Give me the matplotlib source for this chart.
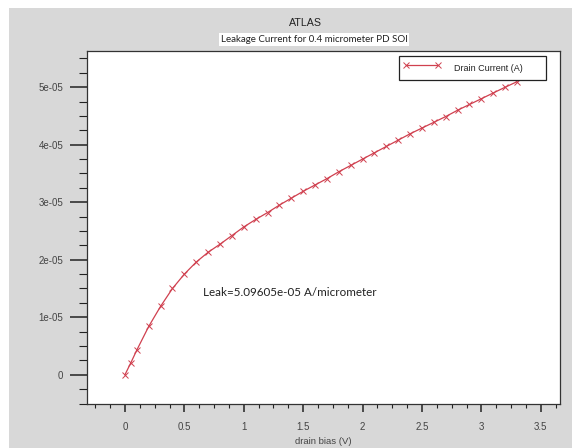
import matplotlib
matplotlib.use("Agg")
import matplotlib.pyplot as plt
from matplotlib.patches import Rectangle
from matplotlib.ticker import MultipleLocator

# drain bias sweep (V) and drain current (A)
drain_bias = [0.0, 0.05, 0.1, 0.2, 0.3, 0.4, 0.5, 0.6, 0.7, 0.8, 0.9, 1.0,
              1.1, 1.2, 1.3, 1.4, 1.5, 1.6, 1.7, 1.8, 1.9, 2.0, 2.1, 2.2,
              2.3, 2.4, 2.5, 2.6, 2.7, 2.8, 2.9, 3.0, 3.1, 3.2, 3.3]
drain_current = [0.0, 0.21e-5, 0.43e-5, 0.84e-5, 1.19e-5, 1.50e-5, 1.75e-5,
                 1.96e-5, 2.13e-5, 2.27e-5, 2.42e-5, 2.57e-5, 2.70e-5,
                 2.82e-5, 2.95e-5, 3.07e-5, 3.19e-5, 3.30e-5, 3.41e-5,
                 3.53e-5, 3.64e-5, 3.75e-5, 3.86e-5, 3.97e-5, 4.08e-5,
                 4.19e-5, 4.29e-5, 4.39e-5, 4.49e-5, 4.60e-5, 4.70e-5,
                 4.80e-5, 4.90e-5, 5.00e-5, 5.09605e-5]
x_ticks = [0, 0.5, 1, 1.5, 2, 2.5, 3, 3.5]
x_tick_labels = ["0", "0.5", "1", "1.5", "2", "2.5", "3", "3.5"]
y_ticks = [0, 1e-5, 2e-5, 3e-5, 4e-5, 5e-5]
y_tick_labels = ["0", "1e-05", "2e-05", "3e-05", "4e-05", "5e-05"]
leak = drain_current[-1]

W, H = 572, 448
plt.rcParams["font.family"] = ["Liberation Sans", "DejaVu Sans"]
fig = plt.figure(figsize=(W / 100, H / 100), dpi=100)
fig.patch.set_facecolor("white")
fig.add_artist(Rectangle((9 / W, 0), 1 - 9 / W, 1 - 8 / H, transform=fig.transFigure,
                         facecolor="#d8d8d8", edgecolor="none", zorder=-5))

left, right, top, bottom = 86.7, 560, 51, 403.5
ax = fig.add_axes([left / W, 1 - bottom / H, (right - left) / W, (bottom - top) / H])
ax.set_facecolor("white")

red = "#d0404f"
ax.plot(drain_bias, drain_current, color=red, lw=0.9, marker="x", ms=5, mew=0.7,
        label="Drain Current (A)")

ax.set_xlim(-0.322, 3.662)
ax.set_ylim(-0.5e-5, 5.63e-5)
ax.set_xticks(x_ticks)
ax.set_xticklabels(x_tick_labels)
ax.set_yticks(y_ticks)
ax.set_yticklabels(y_tick_labels)
ax.xaxis.set_minor_locator(MultipleLocator(0.125))
ax.yaxis.set_minor_locator(MultipleLocator(0.25e-5))

# tick sizes in points (px * 0.72 at 100 dpi)
ax.tick_params(axis="x", which="major", length=6, width=1.1, pad=7,
               labelsize=7, colors="#222222", labelcolor="#444444")
ax.tick_params(axis="x", which="minor", length=3, width=0.8, colors="#222222")
ax.tick_params(axis="y", which="major", length=12, width=1.1, pad=5,
               labelsize=7, colors="#222222", labelcolor="#444444")
ax.tick_params(axis="y", which="minor", length=6, width=0.8, colors="#222222")
for s in ax.spines.values():
    s.set_color("#333333")
    s.set_linewidth(0.9)

ax.set_xlabel("drain bias (V)", fontsize=6.8, color="#444444", labelpad=4)

ax.text(0.654, 1.43e-5, f"Leak={leak:.5e} A/micrometer", family=["Lato", "DejaVu Sans"],
        fontsize=8.4, color="#222222", ha="left", va="center")

leg = ax.legend(loc="upper left", bbox_to_anchor=(0.660, 0.911, 0.310, 0.076),
                mode="expand", borderaxespad=0, fancybox=False, framealpha=1,
                edgecolor="#222222", fontsize=6.5, numpoints=2, handlelength=4.1,
                handletextpad=1.5, borderpad=0.5, handleheight=2.3)
leg.get_frame().set_linewidth(0.9)
for t in leg.get_texts():
    t.set_color("#222222")

fig.text(305 / W, 1 - 22.7 / H, "ATLAS", fontsize=7.7, color="#222222",
         ha="center", va="center")
fig.text(314 / W, 1 - 39.3 / H, "Leakage Current for 0.4 micrometer PD SOI",
         family=["Lato", "DejaVu Sans"], fontsize=7.0, color="#222222",
         ha="center", va="center",
         bbox=dict(facecolor="white", edgecolor="none", pad=1.5))

fig.savefig("out.png", dpi=100)
